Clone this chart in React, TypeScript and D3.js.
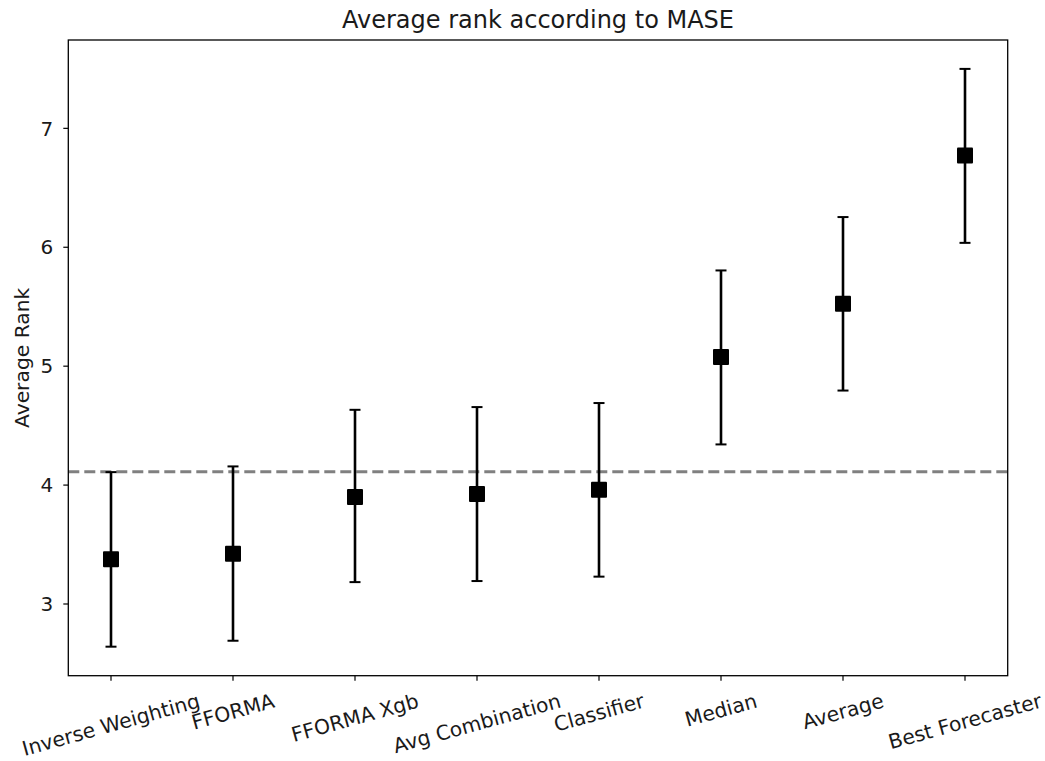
import { useEffect, useRef } from "react";
import * as d3 from "d3";

const methods = [
  "Inverse Weighting",
  "FFORMA",
  "FFORMA Xgb",
  "Avg Combination",
  "Classifier",
  "Median",
  "Average",
  "Best Forecaster",
];
const meanRanks = [3.376, 3.423, 3.899, 3.924, 3.96, 5.078, 5.525, 6.771];
const lowerBounds = [2.641, 2.691, 3.184, 3.193, 3.23, 4.342, 4.795, 6.037];
const upperBounds = [4.109, 4.157, 4.633, 4.656, 4.69, 5.805, 6.254, 7.5];
const yTicks = [3, 4, 5, 6, 7];
const referenceRank = 4.112;

const chartTitle = "Average rank according to MASE";
const yLabel = "Average Rank";

type Point = { name: string; mean: number; lo: number; hi: number };

export default function App() {
  const ref = useRef<SVGSVGElement | null>(null);

  useEffect(() => {
    const node = ref.current;
    if (!node) return;
    const svg = d3.select(node);
    svg.selectAll("*").remove();

    const width = 1045;
    const height = 761;
    const left = 68.3;
    const right = 1007.7;
    const top = 40;
    const bottom = 675.7;
    const font = "DejaVu Sans, sans-serif";
    const ink = "#000000";
    const textInk = "#1a1a1a";

    const data: Point[] = methods.map((name, i) => ({
      name,
      mean: meanRanks[i],
      lo: lowerBounds[i],
      hi: upperBounds[i],
    }));

    const x = d3
      .scaleLinear()
      .domain([-0.35, methods.length - 1 + 0.35])
      .range([left, right]);
    const y = d3.scaleLinear().domain([2.397, 7.743]).range([bottom, top]);

    svg.attr("viewBox", `0 0 ${width} ${height}`);

    // reference line
    svg
      .append("line")
      .attr("x1", left)
      .attr("x2", right)
      .attr("y1", y(referenceRank))
      .attr("y2", y(referenceRank))
      .attr("stroke", "#808080")
      .attr("stroke-width", 2.8)
      .attr("stroke-dasharray", "11 5");

    const marks = svg.append("g").selectAll("g").data(data).join("g");

    marks
      .append("line")
      .attr("x1", (d, i) => x(i))
      .attr("x2", (d, i) => x(i))
      .attr("y1", (d) => y(d.lo))
      .attr("y2", (d) => y(d.hi))
      .attr("stroke", ink)
      .attr("stroke-width", 2.6);

    for (const key of ["lo", "hi"] as const) {
      marks
        .append("line")
        .attr("x1", (d, i) => x(i) - 5.5)
        .attr("x2", (d, i) => x(i) + 5.5)
        .attr("y1", (d) => y(d[key]))
        .attr("y2", (d) => y(d[key]))
        .attr("stroke", ink)
        .attr("stroke-width", 2);
    }

    marks
      .append("rect")
      .attr("x", (d, i) => x(i) - 8)
      .attr("y", (d) => y(d.mean) - 8)
      .attr("width", 16)
      .attr("height", 16)
      .attr("rx", 1)
      .attr("fill", ink);

    // frame
    svg
      .append("rect")
      .attr("x", left)
      .attr("y", top)
      .attr("width", right - left)
      .attr("height", bottom - top)
      .attr("fill", "none")
      .attr("stroke", ink)
      .attr("stroke-width", 1.3);

    // y axis
    const yAxis = svg.append("g");
    yAxis
      .selectAll("line")
      .data(yTicks)
      .join("line")
      .attr("x1", left - 5)
      .attr("x2", left)
      .attr("y1", (d) => y(d))
      .attr("y2", (d) => y(d))
      .attr("stroke", ink)
      .attr("stroke-width", 1.2);
    yAxis
      .selectAll("text")
      .data(yTicks)
      .join("text")
      .attr("x", left - 15)
      .attr("y", (d) => y(d))
      .attr("dy", "0.36em")
      .attr("text-anchor", "end")
      .attr("font-family", font)
      .attr("font-size", 20)
      .attr("fill", textInk)
      .text((d) => String(d));

    // x axis
    const xAxis = svg.append("g");
    xAxis
      .selectAll("line")
      .data(methods)
      .join("line")
      .attr("x1", (d, i) => x(i))
      .attr("x2", (d, i) => x(i))
      .attr("y1", bottom)
      .attr("y2", bottom + 5)
      .attr("stroke", ink)
      .attr("stroke-width", 1.2);

    const angle = 15.5;
    const rad = (angle * Math.PI) / 180;
    const labelTop = 691;
    const labelSize = 20.3;
    xAxis
      .selectAll("text")
      .data(methods)
      .join("text")
      .attr("text-anchor", "middle")
      .attr("dominant-baseline", "central")
      .attr("font-family", font)
      .attr("font-size", labelSize)
      .attr("fill", textInk)
      .text((d) => d)
      .each(function (d, i) {
        const el = this as SVGTextElement;
        const w = el.getComputedTextLength();
        const boxH = w * Math.sin(rad) + labelSize * 0.95 * Math.cos(rad);
        d3.select(el).attr(
          "transform",
          `translate(${x(i)},${labelTop + boxH / 2}) rotate(${-angle})`
        );
      });

    // title
    svg
      .append("text")
      .attr("x", (left + right) / 2)
      .attr("y", 28)
      .attr("text-anchor", "middle")
      .attr("font-family", font)
      .attr("font-size", 24)
      .attr("fill", textInk)
      .text(chartTitle);

    // y label
    svg
      .append("text")
      .attr("transform", `translate(28.5,${(top + bottom) / 2}) rotate(-90)`)
      .attr("text-anchor", "middle")
      .attr("font-family", font)
      .attr("font-size", 20.3)
      .attr("fill", textInk)
      .text(yLabel);
  }, []);

  return (
    <svg
      ref={ref}
      width={1045}
      height={761}
      style={{ position: "absolute", left: 0, top: 0, background: "#ffffff" }}
    />
  );
}
